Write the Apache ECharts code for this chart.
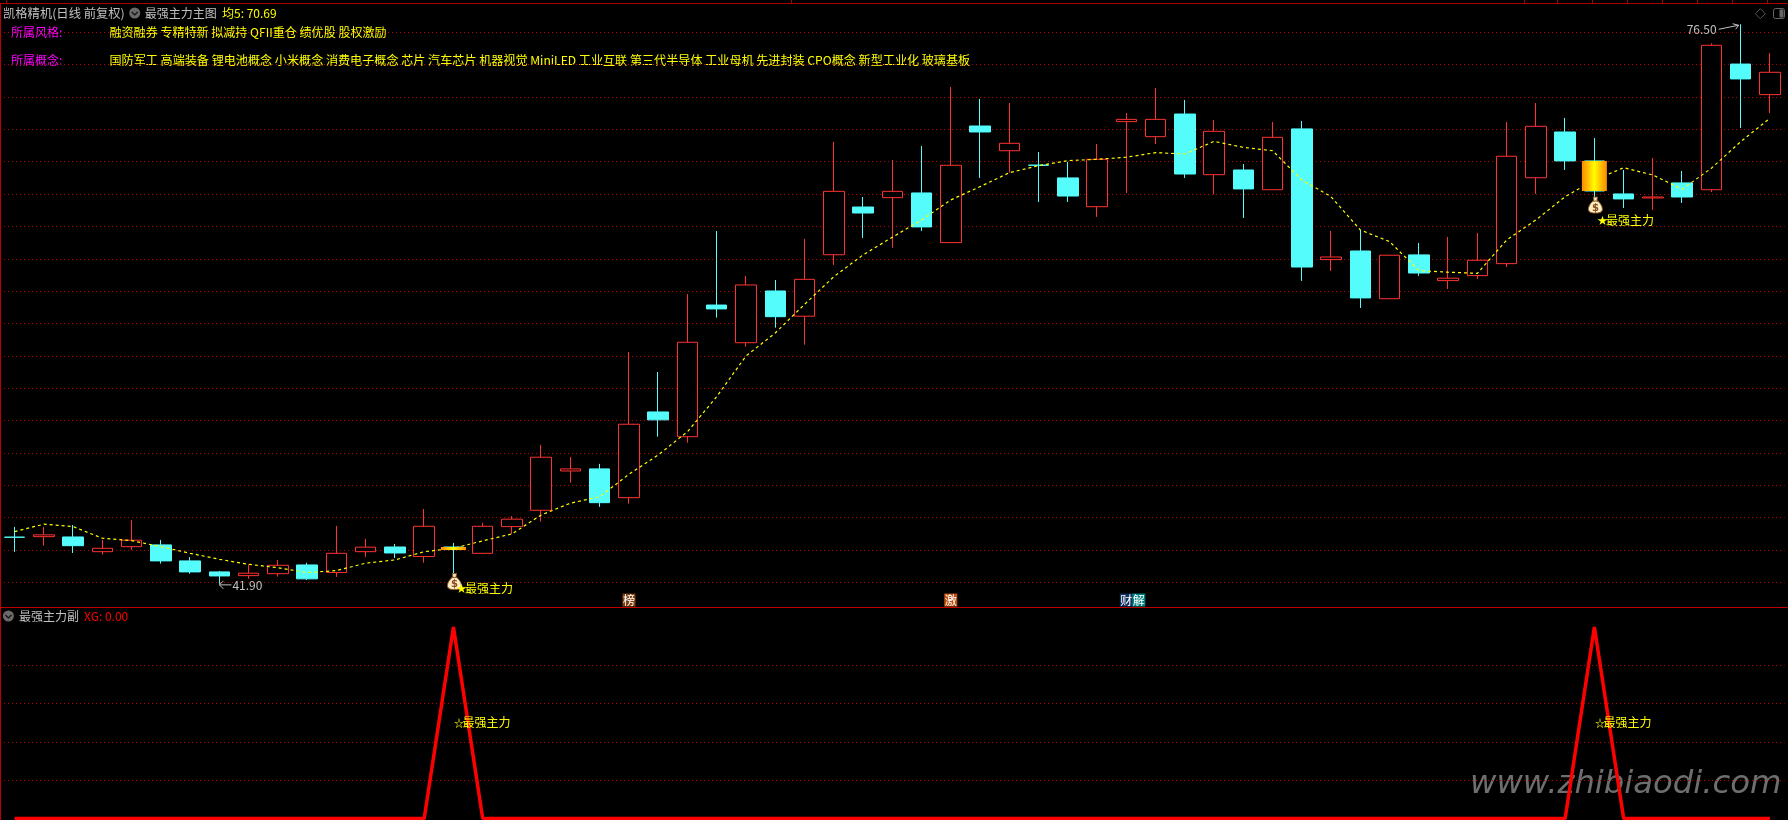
<!DOCTYPE html>
<html><head><meta charset="utf-8">
<script src="https://cdn.jsdelivr.net/npm/echarts@6/dist/echarts.min.js"></script>
<style>html,body{margin:0;padding:0;background:#000}#c{width:1788px;height:820px}</style>
</head><body><div id="c"></div>
<script>
const categories=[0,1,2,3,4,5,6,7,8,9,10,11,12,13,14,15,16,17,18,19,20,21,22,23,24,25,26,27,28,29,30,31,32,33,34,35,36,37,38,39,40,41,42,43,44,45,46,47,48,49,50,51,52,53,54,55,56,57,58,59,60];
const opens=[44.79,44.82,44.80,43.89,44.20,44.31,43.32,42.64,42.41,42.53,43.07,42.60,43.89,44.18,43.59,44.18,43.79,45.44,46.45,48.88,49.01,47.23,52.53,51.00,59.14,56.81,60.01,58.45,62.25,65.20,65.78,66.07,63.00,70.21,68.68,67.79,67.00,65.22,70.48,69.55,70.95,67.20,67.49,66.27,70.03,61.95,62.48,59.53,62.24,60.65,60.96,61.70,67.01,69.84,68.05,66.01,65.76,66.69,66.27,74.04,72.15];
const closes=[44.78,44.93,44.26,44.10,44.60,43.32,42.64,42.39,42.56,43.05,42.21,43.79,44.17,43.81,45.46,44.02,45.46,45.90,49.73,49.01,46.92,51.77,52.04,56.84,58.90,60.38,58.42,60.73,66.17,64.83,66.17,63.97,67.78,69.84,69.14,67.78,65.88,68.15,70.62,70.62,67.24,69.88,66.32,69.51,61.49,62.11,59.58,62.22,61.12,60.80,61.91,68.34,70.19,68.05,66.19,65.70,65.82,65.82,75.20,73.12,73.53];
const lows=[43.88,44.26,43.81,43.71,44.00,43.15,42.52,41.90,42.21,42.35,42.14,42.33,43.57,43.50,43.21,42.56,43.79,44.99,45.75,48.16,46.66,46.86,51.00,50.63,58.36,56.57,57.74,56.69,61.62,63.29,62.69,63.72,63.00,67.00,67.32,65.51,65.51,64.59,66.07,69.10,67.00,65.99,64.52,66.27,60.63,61.25,58.96,59.53,60.94,60.13,60.75,61.49,66.01,67.49,65.76,65.14,65.02,65.45,66.13,70.09,71.01];
const highs=[45.42,45.42,45.54,44.62,45.84,44.62,43.55,42.70,43.09,43.38,43.20,45.48,44.68,44.37,46.53,44.43,45.67,46.10,50.49,49.75,49.32,56.24,55.00,59.82,63.72,60.94,60.69,63.23,69.22,65.82,68.11,68.97,72.62,71.88,71.63,68.60,67.99,69.10,71.01,72.56,71.82,70.58,67.86,70.46,70.52,63.72,63.78,62.22,62.98,63.35,63.60,70.46,71.63,70.71,69.47,67.49,68.23,67.43,75.32,76.50,74.72];
const ma5=[45.13,45.59,45.44,44.72,44.57,44.20,43.79,43.42,43.11,42.90,42.60,42.72,43.18,43.38,43.89,44.10,44.56,44.99,46.16,46.89,47.29,48.68,49.87,51.31,53.48,55.99,57.41,59.18,60.89,62.24,63.33,64.40,65.64,66.46,67.32,67.76,68.07,68.15,68.28,68.56,68.48,69.26,68.89,68.68,66.87,65.84,63.78,63.06,61.27,61.17,61.10,63.16,64.40,65.84,66.87,67.63,67.18,66.30,67.60,69.24,70.69];
const xg=[0,0,0,0,0,0,0,0,0,0,0,0,0,0,0,100,0,0,0,0,0,0,0,0,0,0,0,0,0,0,0,0,0,0,0,0,0,0,0,0,0,0,0,0,0,0,0,0,0,0,0,0,0,0,100,0,0,0,0,0,0];
const signalIdx=[15,54];
const bagPrices=[42.04,65.32];
const signalTextPrices=[41.63,64.40];
const subSignalValues=[50,50];
const signalName='最强主力';
const extremeIdx=[59,7];
const extremePrices=[76.50,41.90];
const extremeLabels=['76.50','41.90'];
const tagIdx=[21,32,38,38];
const tagPrice=40.9;
const tagTexts=['榜','激','财','解'];
const headerStock='凯格精机(日线 前复权)';
const headerMain='最强主力主图';
const headerMa='均5: 70.69';
const styleLabel='所属风格:';
const styleText='融资融券 专精特新 拟减持 QFII重仓 绩优股 股权激励';
const conceptLabel='所属概念:';
const conceptText='国防军工 高端装备 锂电池概念 小米概念 消费电子概念 芯片 汽车芯片 机器视觉 MiniLED 工业互联 第三代半导体 工业母机 先进封装 CPO概念 新型工业化 玻璃基板';
const subHeader='最强主力副';
const subValue='XG: 0.00';
const watermark='www.zhibiaodi.com';

const UP='#ff3232',DOWN='#54fcfc',YEL='#ffff00',GRID='#b80000',FRAME='#a80000',GRAY='#c0c0c0';
const FONT='"Noto Sans CJK SC","Noto Sans",sans-serif';
const chart=echarts.init(document.getElementById('c'),null,{renderer:'canvas'});
const candleData=categories.map((_,i)=>[opens[i],closes[i],lows[i],highs[i]]);
const splitLine={show:true,showMinLine:false,showMaxLine:false,lineStyle:{color:GRID,width:1,type:[1,3]}};
const xAxisBase={type:'category',data:categories,boundaryGap:true,axisLine:{show:false},axisTick:{show:false},axisLabel:{show:false},splitLine:{show:false}};
const txt=(s,x,y,fill,size,extra)=>({type:'text',silent:true,style:Object.assign({text:s,x:x,y:y,fill:fill,font:(size||12)+'px '+FONT,verticalAlign:'middle',align:'left'},extra||{})});
const icon=(cx,cy)=>[{type:'circle',shape:{cx:cx,cy:cy,r:5.5},style:{fill:'#6a6a6a'}},{type:'polyline',shape:{points:[[cx-3,cy-1],[cx,cy+2],[cx+3,cy-1]]},style:{stroke:'#111',lineWidth:1.2,fill:null}}];
const topTicks=[6,791,1524,1557,1592,1627,1662,1697,1732,1767];

const option={
 backgroundColor:'#000',animation:false,
 grid:[{left:-3.45,width:1788,top:0,height:614.6},{left:-3.45,width:1788,top:627,height:191.6}],
 xAxis:[Object.assign({gridIndex:0},xAxisBase),Object.assign({gridIndex:1},xAxisBase)],
 yAxis:[
  {type:'value',gridIndex:0,min:40,max:78,interval:2,axisLine:{show:false},axisTick:{show:false},axisLabel:{show:false},splitLine:splitLine},
  {type:'value',gridIndex:1,min:0,max:100,interval:20,axisLine:{show:false},axisTick:{show:false},axisLabel:{show:false},splitLine:splitLine}
 ],
 series:[
  {name:'K',type:'candlestick',z:2,xAxisIndex:0,yAxisIndex:0,data:candleData,barWidth:21,clip:false,
   itemStyle:{color:'#000',color0:DOWN,borderColor:UP,borderColor0:DOWN,borderWidth:1}},
  {name:'均5',type:'line',z:3,xAxisIndex:0,yAxisIndex:0,data:ma5,symbol:'none',clip:false,lineStyle:{color:YEL,width:1.2,type:[3,3]}},
  {name:'主力K',type:'custom',z:4,xAxisIndex:0,yAxisIndex:0,clip:false,data:signalIdx.map(i=>[i,opens[i],closes[i]]),encode:{x:0,y:[1,2]},
   renderItem:(p,api)=>{const a=api.coord([api.value(0),api.value(1)]),b=api.coord([api.value(0),api.value(2)]);
    return {type:'rect',shape:{x:a[0]-12.5,y:a[1],width:25,height:Math.max(b[1]-a[1],3)},style:{fill:new echarts.graphic.LinearGradient(0,0,1,0,[{offset:0,color:'#ff8a00'},{offset:.25,color:'#ffc000'},{offset:.5,color:'#ffff00'},{offset:.75,color:'#ffc000'},{offset:1,color:'#ff8a00'}])}};}},
  {name:'钱袋',type:'custom',z:5,xAxisIndex:0,yAxisIndex:0,clip:false,data:signalIdx.map((v,i)=>[v,bagPrices[i],signalTextPrices[i]]),encode:{x:0,y:1},
   renderItem:(p,api)=>{const c=api.coord([api.value(0),api.value(1)]),t=api.coord([api.value(0),api.value(2)]);const x=c[0]+1,y=c[1];
    return {type:'group',children:[
     {type:'path',shape:{pathData:'M5 0 L9 0 L8.4 3.5 C11.5 5.5 14 9.5 13.6 12.8 C13.2 15.4 10 16 7 16 C4 16 0.8 15.4 0.4 12.8 C0 9.5 2.5 5.5 5.6 3.5 Z',x:x-7,y:y-8,width:14,height:16,layout:'cover'},style:{fill:'#ffeec4',stroke:'#8a5a20',lineWidth:1}},
     {type:'text',style:{text:'$',x:x,y:y+3,fill:'#8a4a20',font:'bold 10px "DejaVu Sans"',align:'center',verticalAlign:'middle'}},
     {type:'rect',shape:{x:x-3,y:y-4.5,width:6,height:1},style:{fill:'#8a5a20'}},
     txt('★',t[0]+3,t[1],YEL,10),
     txt(signalName,t[0]+11.5,t[1],YEL,12)
    ]};}},
  {name:'极值',type:'custom',z:5,xAxisIndex:0,yAxisIndex:0,clip:false,data:extremeIdx.map((v,i)=>[v,extremePrices[i],i]),encode:{x:0,y:1},
   renderItem:(p,api)=>{const c=api.coord([api.value(0),api.value(1)]),k=api.value(2),x=c[0],y=c[1];
    const s={stroke:GRAY,lineWidth:1,fill:null};
    if(k===0) return {type:'group',children:[
      txt(extremeLabels[k],x-54,y+5.5,GRAY,12),
      {type:'polyline',shape:{points:[[x-22,y+5],[x-2,y+1]]},style:s},
      {type:'polyline',shape:{points:[[x-8,y-0.5],[x-2,y+1],[x-5,y+5]]},style:s}]};
    return {type:'group',children:[
      txt(extremeLabels[k],x+13,y+2,GRAY,12),
      {type:'polyline',shape:{points:[[x,y+1],[x+12,y+1]]},style:s},
      {type:'polyline',shape:{points:[[x+4,y-3],[x,y+1],[x+4,y+5]]},style:s}]};}},
  {name:'标签',type:'custom',z:5,xAxisIndex:0,yAxisIndex:0,clip:false,data:tagIdx.map((v,i)=>[v,tagPrice,i]),encode:{x:0,y:1},
   renderItem:(p,api)=>{const k=api.value(2),c=api.coord([api.value(0),api.value(1)]);const bg=['#80400f','#c0500f','#0f3060','#008080'][k];const x=c[0]+(k===3?12.5:0),y=c[1];
    return {type:'group',children:[{type:'rect',shape:{x:x-6.5,y:y-6.5,width:13,height:13},style:{fill:bg}},
     txt(tagTexts[k],x,y,'#fff',12,{align:'center'})]};}},
  {name:'XG',type:'line',z:3,xAxisIndex:1,yAxisIndex:1,data:xg,symbol:'none',clip:false,lineStyle:{color:'#ff0000',width:3.5,join:'bevel'}},
  {name:'副标',type:'custom',xAxisIndex:1,yAxisIndex:1,clip:false,z:5,data:signalIdx.map((v,i)=>[v,subSignalValues[i]]),encode:{x:0,y:1},
   renderItem:(p,api)=>{const c=api.coord([api.value(0),api.value(1)]);
    return {type:'group',children:[txt('☆',c[0]+0.5,c[1],YEL,10),txt(signalName,c[0]+9,c[1],YEL,12)]};}}
 ],
 graphic:[
  {type:'group',silent:true,z:10,children:[
   {type:'line',shape:{x1:0,y1:3.5,x2:1788,y2:3.5},style:{stroke:FRAME,lineWidth:1}},
   {type:'line',shape:{x1:0,y1:607.5,x2:1788,y2:607.5},style:{stroke:'#c00000',lineWidth:1}},
   {type:'line',shape:{x1:0.5,y1:3,x2:0.5,y2:820},style:{stroke:'#c00000',lineWidth:1}}
  ].concat(topTicks.map(x=>({type:'line',shape:{x1:x+.5,y1:0,x2:x+.5,y2:3},style:{stroke:FRAME,lineWidth:1}})),
   [txt(headerStock,3,13,GRAY,12.3)],icon(134.7,13),[
   txt(headerMain,144.7,13,GRAY),
   txt(headerMa,222,13,YEL),
   txt(styleLabel,11,32,'#ff00ff'),
   txt(styleText,109.5,32,YEL,12.05),
   txt(conceptLabel,11,60,'#ff00ff'),
   txt(conceptText,109.5,60,YEL,12.1),
   {type:'polygon',shape:{points:[[1760.3,8.7],[1765.3,13.7],[1760.3,18.7],[1755.3,13.7]]},style:{stroke:'#555',fill:null,lineWidth:1}},
   {type:'rect',shape:{x:1773.5,y:8.5,width:11,height:10,r:2},style:{stroke:'#666',fill:null,lineWidth:1}},
   {type:'rect',shape:{x:1779.5,y:9.5,width:4,height:8},style:{fill:'#666'}}],
   icon(8.4,616),[
   txt(subHeader,19,616,GRAY),
   txt(subValue,84,616,'#ff0000'),
   {type:'text',style:{text:watermark,x:1470,y:785,fill:'rgba(122,122,122,.9)',font:'italic 32.3px "DejaVu Sans"',verticalAlign:'middle',shadowColor:'rgba(80,80,80,.85)',shadowBlur:5,shadowOffsetX:1,shadowOffsetY:3}}
  ])}
 ]
};
chart.setOption(option);
</script></body></html>
